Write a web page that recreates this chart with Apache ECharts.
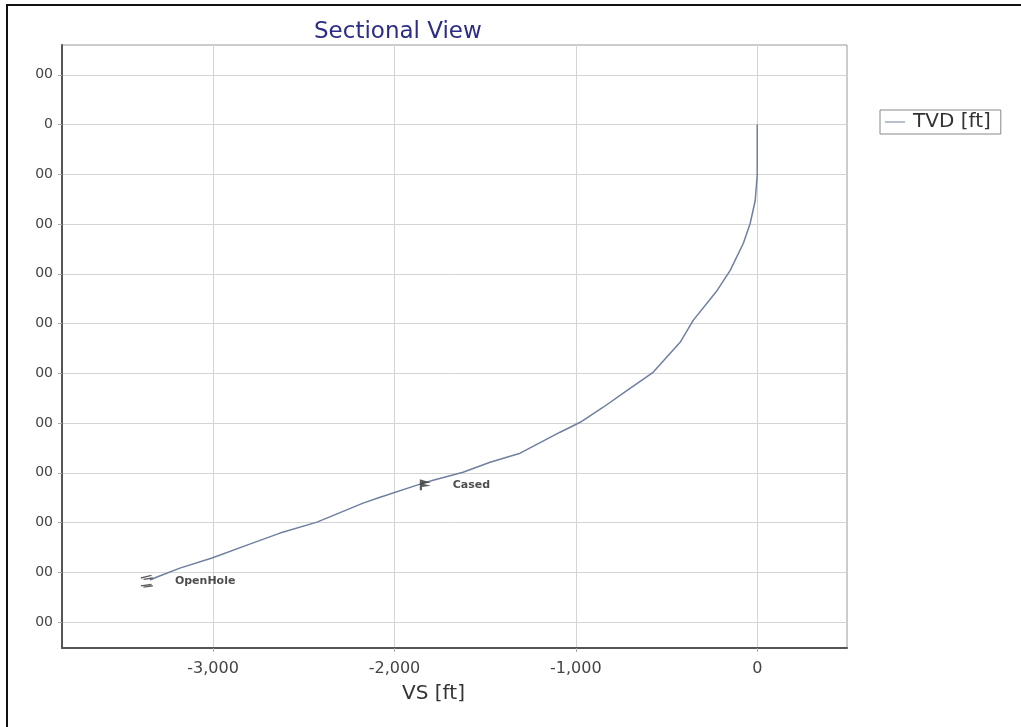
<!DOCTYPE html>
<html>
<head>
<meta charset="utf-8">
<script src="https://cdn.jsdelivr.net/npm/echarts@6/dist/echarts.min.js"></script>
<style>html,body{margin:0;padding:0;background:#fff;}#c{width:1021px;height:727px;}</style>
</head>
<body>
<div id="c"></div>
<script>
// VS [ft] (x) and TVD [ft] (y) of the well path
const vs  = [0, 0, 0, -11, -39, -77, -149, -221, -353, -425, -574, -717, -849, -976, -1087, -1307, -1473, -1622, -1787, -1859, -2079, -2173, -2427, -2631, -2813, -3006, -3183, -3309, -3348];
const tvd = [0, 260, 510, 763, 994, 1195, 1466, 1667, 1968, 2189, 2490, 2671, 2841, 2992, 3092, 3303, 3394, 3494, 3574, 3614, 3745, 3805, 3996, 4106, 4227, 4357, 4458, 4548, 4578];
// casing annotations
const annNames = ['Cased', 'OpenHole'];
const annVS = [-1830, -3365];
const annTVD = [3620, 4590];
// tick values and labels (y labels are cut off on the left in the reference)
const xTicks = [-3000, -2000, -1000, 0];
const yTicks = [-500, 0, 500, 1000, 1500, 2000, 2500, 3000, 3500, 4000, 4500, 5000];
const yTickLabels = ['00', '0', '00', '00', '00', '00', '00', '00', '00', '00', '00', '00'];

const chart = echarts.init(document.getElementById('c'));
const font = 'DejaVu Sans';
const line = vs.map((v, i) => [v, tvd[i]]);
const shoeCased = 'path://M0,0 L10,3 L3,4 L10,6 L2,7 L2,10 L0,10 Z';
const shoeOpen = 'path://M0,2 L8,0 L8,1 L0,3 Z M2,3 L9,2 L9,3 L2,4 Z M0,8 L8,7 L8,8 L0,9 Z M2,9 L9,8 L9,9 L2,10 Z';
const ann = [
  { name: annNames[0], value: [annVS[0], annTVD[0]], symbol: shoeCased, symbolSize: [11, 11] },
  { name: annNames[1], value: [annVS[1], annTVD[1]], symbol: shoeOpen, symbolSize: [12, 13] }
];

chart.setOption({
  animation: false,
  backgroundColor: '#fff',
  title: {
    text: 'Sectional View', left: 309, top: 16,
    textStyle: { color: '#2c2c86', fontFamily: font, fontSize: 23, fontWeight: 'normal' }
  },
  legend: {
    left: 880, top: 110, orient: 'vertical',
    data: [{ name: 'TVD [ft]', icon: 'path://M0,0 L20,0 L20,1 L0,1 Z' }],
    itemWidth: 26, itemHeight: 1, itemGap: 4,
    borderColor: '#888', borderWidth: 1, borderRadius: 0, padding: [2, 10, 2, 5],
    textStyle: { fontFamily: font, fontSize: 20, color: '#333' }
  },
  grid: { left: 62, right: 174, top: 45, bottom: 79, show: true, borderColor: '#999', borderWidth: 1, backgroundColor: '#fff' },
  xAxis: {
    type: 'value', min: -3833, max: 495,
    name: 'VS [ft]', nameLocation: 'middle', nameGap: 36,
    nameTextStyle: { fontFamily: font, fontSize: 20, color: '#333', padding: [0, 42, 0, 0] },
    axisLine: { show: true, onZero: false, lineStyle: { color: '#555', width: 2 } },
    axisTick: { show: true, customValues: xTicks, length: 4, lineStyle: { color: '#aaa' } },
    axisLabel: {
      customValues: xTicks, fontFamily: font, fontSize: 16, color: '#444', margin: 13,
      formatter: v => v.toLocaleString('en-US')
    },
    splitLine: { show: true, lineStyle: { color: '#d4d4d4', width: 1 } }
  },
  yAxis: {
    type: 'value', inverse: true, min: -800, max: 5261,
    axisLine: { show: true, onZero: false, lineStyle: { color: '#555', width: 2 } },
    axisTick: { show: true, customValues: yTicks, length: 4, lineStyle: { color: '#aaa' } },
    axisLabel: {
      customValues: yTicks, fontFamily: font, fontSize: 14, color: '#444', margin: 9,
      formatter: v => yTickLabels[yTicks.indexOf(v)]
    },
    splitLine: { show: true, lineStyle: { color: '#d4d4d4', width: 1 } }
  },
  series: [
    {
      name: 'TVD [ft]', type: 'line', data: line, showSymbol: false, symbol: 'none',
      lineStyle: { color: '#6f7fa0', width: 1.5 }, itemStyle: { color: '#6f7fa0' }, z: 3
    },
    {
      name: 'annotations', type: 'scatter', data: ann, z: 4,
      itemStyle: { color: '#333' },
      label: {
        show: true, position: 'right', distance: 22,
        formatter: p => p.name,
        fontFamily: font, fontSize: 11, fontWeight: 'bold', color: '#222'
      }
    }
  ],
  graphic: [
    { type: 'line', shape: { x1: 7, y1: 5, x2: 7, y2: 727 }, style: { stroke: '#111', lineWidth: 2 }, z: 10 },
    { type: 'line', shape: { x1: 6, y1: 5, x2: 1021, y2: 5 }, style: { stroke: '#111', lineWidth: 2 }, z: 10 }
  ]
});
</script>
</body>
</html>
